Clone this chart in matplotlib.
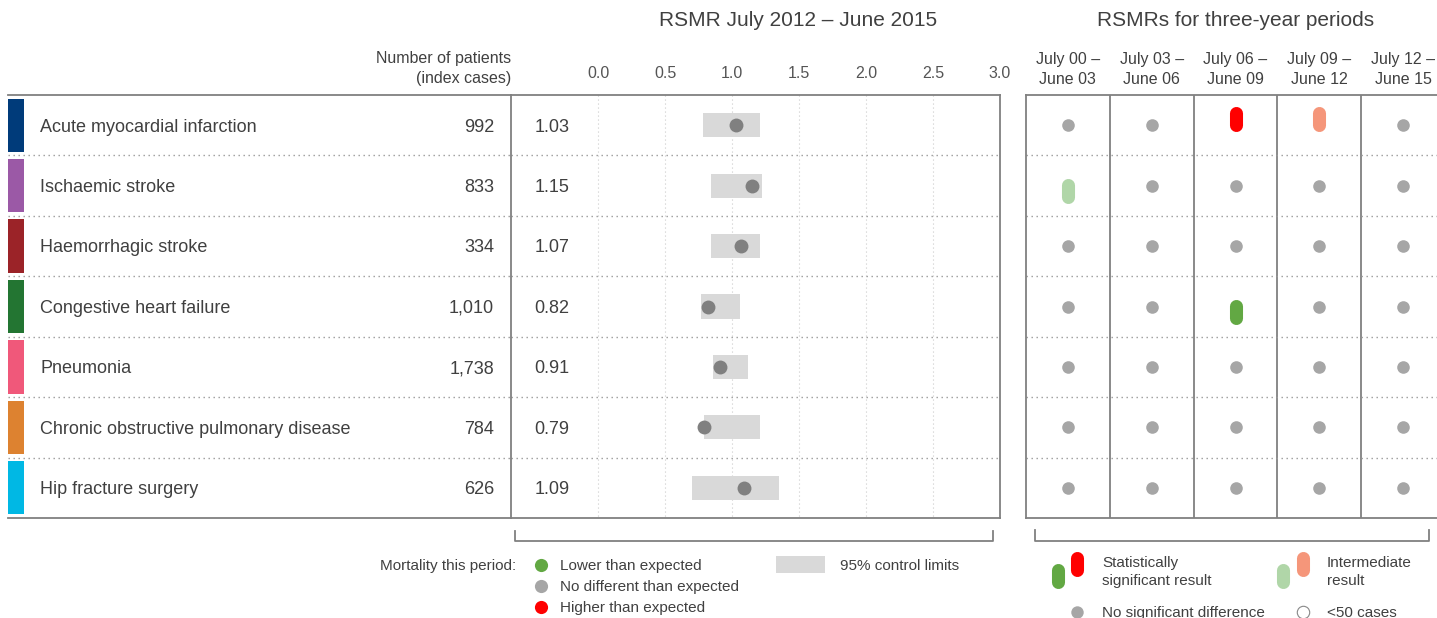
import matplotlib.pyplot as plt

plt.rcParams['font.family'] = ['Liberation Sans', 'DejaVu Sans']

conditions = ["Acute myocardial infarction", "Ischaemic stroke", "Haemorrhagic stroke",
              "Congestive heart failure", "Pneumonia",
              "Chronic obstructive pulmonary disease", "Hip fracture surgery"]
patients = ["992", "833", "334", "1,010", "1,738", "784", "626"]
rsmr = [1.03, 1.15, 1.07, 0.82, 0.91, 0.79, 1.09]
lower = [0.78, 0.84, 0.84, 0.77, 0.86, 0.79, 0.70]
upper = [1.21, 1.22, 1.21, 1.06, 1.12, 1.21, 1.35]
strip_colors = ["#003b7a", "#9b59a6", "#9b2328", "#237532", "#f0587a", "#dd8230", "#00b8e4"]

periods = ["July 00 –\nJune 03", "July 03 –\nJune 06", "July 06 –\nJune 09",
           "July 09 –\nJune 12", "July 12 –\nJune 15"]
# result for each condition and three-year period
status = [
    ["none", "none", "sig_high", "int_high", "none"],
    ["int_low", "none", "none", "none", "none"],
    ["none", "none", "none", "none", "none"],
    ["none", "none", "sig_low", "none", "none"],
    ["none", "none", "none", "none", "none"],
    ["none", "none", "none", "none", "none"],
    ["none", "none", "none", "none", "none"],
]
status_color = {"sig_high": "#ff0000", "sig_low": "#62a843",
                "int_high": "#f5967a", "int_low": "#b0d6a8"}

TXT = "#404040"
LINE = "#808080"
DOT = (0, (1, 2.6))

W, H = 1437, 618


def rect(x0, y0, x1, y1):
    return [x0 / W, 1 - y1 / H, (x1 - x0) / W, (y1 - y0) / H]


fig = plt.figure(figsize=(W / 100, H / 100), dpi=100)
n = len(conditions)
rows = [i + 0.5 for i in range(n)]
ty = 0.03  # small nudge so text sits on the row centre like the original

# left table: colour strips, names, patient counts
axl = fig.add_axes(rect(8, 95, 511, 518))
axl.set_xlim(0, 503)
axl.set_ylim(n, 0)
axl.barh(rows, 16, left=0, height=0.88, color=strip_colors)
for y, name, num in zip(rows, conditions, patients):
    axl.text(32, y + ty, name, va="center", ha="left", fontsize=13, color=TXT)
    axl.text(486, y + ty, num, va="center", ha="right", fontsize=13, color=TXT)
axl.hlines(range(1, n), 0, 503, colors="#999999", linestyles=DOT, lw=1)
axl.text(503, 1.062, "Number of patients\n(index cases)", transform=axl.get_xaxis_transform(),
         ha="right", va="center", fontsize=11.5, color=TXT, linespacing=1.45)
axl.set_xticks([])
axl.set_yticks([])
for s in ["left", "right"]:
    axl.spines[s].set_visible(False)
for s in ["top", "bottom"]:
    axl.spines[s].set_color(LINE)
    axl.spines[s].set_linewidth(1.3)

# RSMR panel
ax = fig.add_axes(rect(511, 95, 1000, 518))
ax.set_xlim(-0.65, 3.0)
ax.set_ylim(n, 0)
ax.vlines([0, 0.5, 1.0, 1.5, 2.0, 2.5], 0, n, colors="#cccccc", linestyles=DOT, lw=0.8)
ax.hlines(range(1, n), -0.65, 3.0, colors="#999999", linestyles=DOT, lw=1)
ax.barh(rows, [u - l for u, l in zip(upper, lower)], left=lower, height=0.4,
        color="#d9d9d9", zorder=2)
ax.scatter(rsmr, rows, s=100, color="#808080", zorder=3, linewidths=0)
for y, v in zip(rows, rsmr):
    ax.text(-0.345, y + ty, f"{v:.2f}", ha="center", va="center", fontsize=13, color=TXT)
ax.xaxis.tick_top()
ax.set_xticks([0, 0.5, 1.0, 1.5, 2.0, 2.5, 3.0])
ax.set_xticklabels(["0.0", "0.5", "1.0", "1.5", "2.0", "2.5", "3.0"])
ax.tick_params(axis="x", length=0, pad=10, labelsize=11.5, labelcolor="#555555")
ax.set_yticks([])
for s in ax.spines.values():
    s.set_color(LINE)
    s.set_linewidth(1.3)

# three-year periods panel
axr = fig.add_axes(rect(1026, 95, 1445, 518))
axr.set_xlim(0, 5)
axr.set_ylim(n, 0)
axr.vlines(range(1, 5), 0, n, colors=LINE, lw=1.3)
axr.hlines(range(1, n), 0, 5, colors="#999999", linestyles=DOT, lw=1)
for i, row in enumerate(status):
    for j, st in enumerate(row):
        x, y = j + 0.5, i + 0.5
        if st == "none":
            axr.scatter(x, y, s=82, color="#a6a6a6", linewidths=0, zorder=3)
        else:
            off = -0.11 if st.endswith("high") else 0.09
            axr.plot([x, x], [y + off - 0.1, y + off + 0.1], lw=9.4,
                     solid_capstyle="round", color=status_color[st], zorder=3)
for j, p in enumerate(periods):
    axr.text(j + 0.5, 1.06, p, transform=axr.get_xaxis_transform(), ha="center",
             va="center", fontsize=11.5, color=TXT, linespacing=1.45)
axr.set_xticks([])
axr.set_yticks([])
for s in axr.spines.values():
    s.set_color(LINE)
    s.set_linewidth(1.3)

# overlay for titles and legends, in pixel units
lg = fig.add_axes([0, 0, 1, 1], zorder=-1)
lg.set_xlim(0, W)
lg.set_ylim(H, 0)
lg.axis("off")
lg.text(798, 21, "RSMR July 2012 – June 2015", ha="center", va="center", fontsize=15, color=TXT)
lg.text(1236, 21, "RSMRs for three-year periods", ha="center", va="center", fontsize=15, color=TXT)

lg.plot([515, 515, 993, 993], [531, 541, 541, 531], color=LINE, lw=1.3)
lg.plot([1035, 1035, 1429, 1429], [530, 541, 541, 530], color=LINE, lw=1.3)

lg.text(516, 566, "Mortality this period:", ha="right", va="center", fontsize=11, color=TXT)
for y, c, lab in [(565, "#62a843", "Lower than expected"),
                  (586, "#a6a6a6", "No different than expected"),
                  (607, "#ff0000", "Higher than expected")]:
    lg.scatter(541, y, s=90, color=c, linewidths=0)
    lg.text(560, y + 1, lab, ha="left", va="center", fontsize=11, color=TXT)
lg.add_patch(plt.Rectangle((776, 556), 49, 17, color="#d9d9d9", lw=0))
lg.text(840, 566, "95% control limits", ha="left", va="center", fontsize=11, color=TXT)

for x, y, c in [(1058, 576, "#62a843"), (1077, 564, "#ff0000"),
                (1283, 576, "#b0d6a8"), (1303, 564, "#f5967a")]:
    lg.plot([x, x], [y - 6, y + 6], lw=9.4, solid_capstyle="round", color=c)
lg.text(1102, 572, "Statistically\nsignificant result", ha="left", va="center",
        fontsize=11, color=TXT, linespacing=1.3)
lg.text(1327, 572, "Intermediate\nresult", ha="left", va="center",
        fontsize=11, color=TXT, linespacing=1.3)
lg.scatter(1077, 612, s=80, color="#a6a6a6", linewidths=0)
lg.text(1102, 613, "No significant difference", ha="left", va="center", fontsize=11, color=TXT)
lg.scatter(1303, 612, s=80, facecolor="white", edgecolor="#888888", linewidths=0.8)
lg.text(1327, 613, "<50 cases", ha="left", va="center", fontsize=11, color=TXT)

fig.savefig("out.png", dpi=100)
